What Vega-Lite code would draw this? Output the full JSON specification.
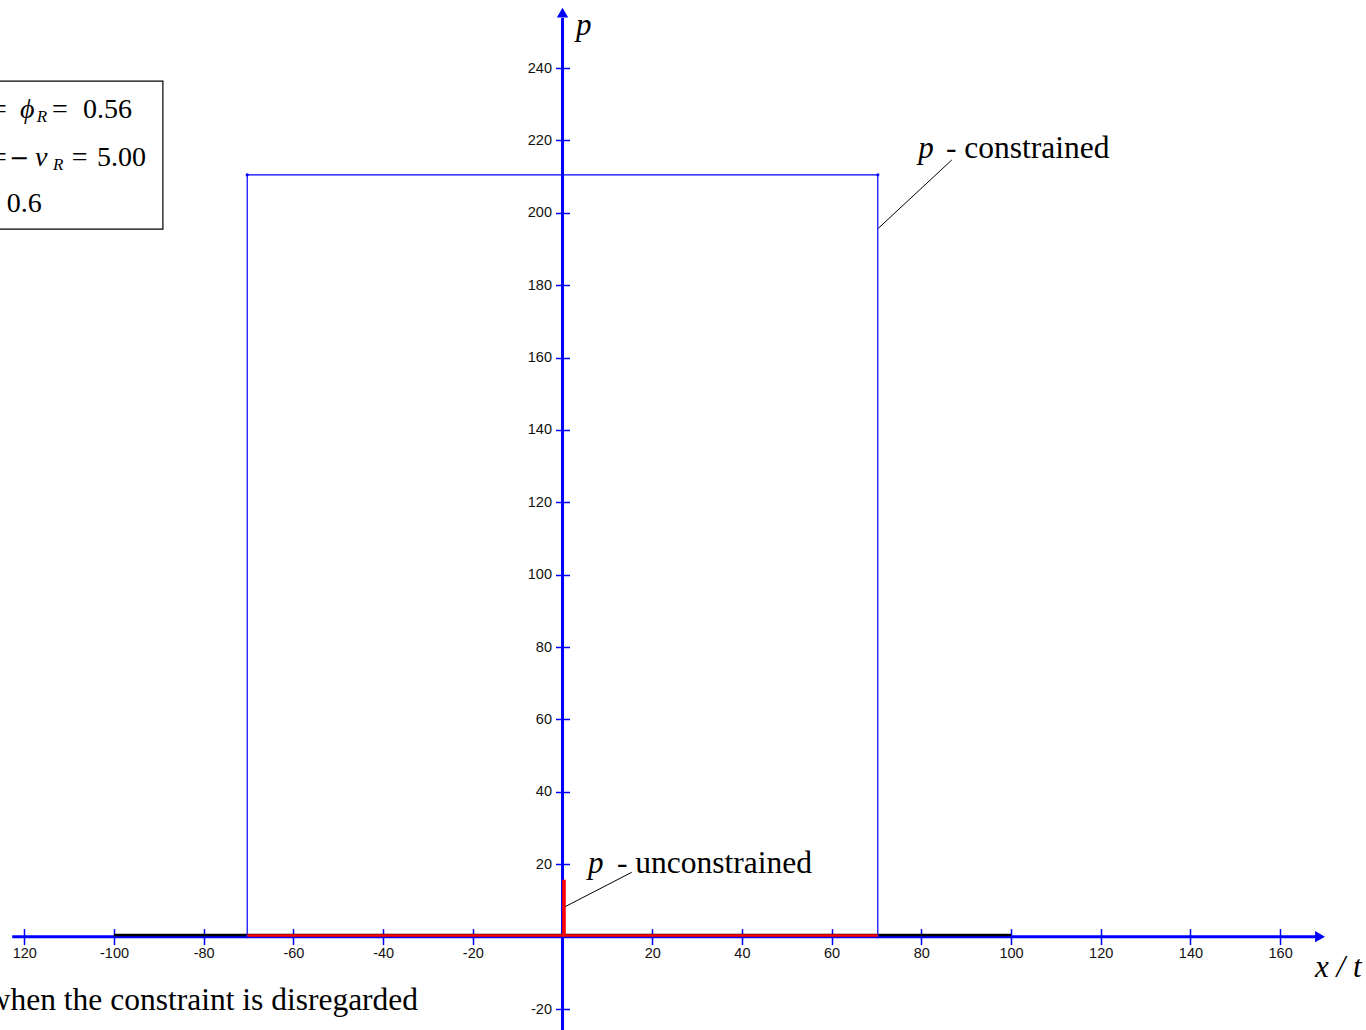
{
  "$schema": "https://vega.github.io/schema/vega-lite/v6.json",
  "width": 1366,
  "height": 1030,
  "autosize": {"type": "none"},
  "padding": 0,
  "background": "white",
  "config": {"view": {"stroke": null}},
  "datasets": {
    "xaxisline": [{"x": -122.7, "y": 0, "o": 1}, {"x": 167.9, "y": 0, "o": 2}],
    "yaxisline": [{"x": 0, "y": -25.8, "o": 1}, {"x": 0, "y": 253.8, "o": 2}],
    "arrowRight": [{"x": 168.9, "y": 0}],
    "arrowUp": [{"x": 0, "y": 255.3}],
    "black": [{"x": -100, "y": 0.45, "o": 1}, {"x": 100, "y": 0.45, "o": 2}],
    "constrained": [
      {"x": -70.3, "y": 0, "o": 1},
      {"x": -70.3, "y": 210.5, "o": 2},
      {"x": 70.3, "y": 210.5, "o": 3},
      {"x": 70.3, "y": 0, "o": 4}
    ],
    "unconstrained": [
      {"x": -70.3, "y": 0.3, "o": 1},
      {"x": 0.2, "y": 0.3, "o": 2},
      {"x": 0.2, "y": 15.4, "o": 3},
      {"x": 0.45, "y": 15.4, "o": 4},
      {"x": 0.45, "y": 0.3, "o": 5},
      {"x": 70.3, "y": 0.3, "o": 6}
    ],
    "leaders": [
      {"g": 1, "x": 70.4, "y": 195.7, "o": 1},
      {"g": 1, "x": 86.8, "y": 214.6, "o": 2},
      {"g": 2, "x": 0.56, "y": 8.26, "o": 1},
      {"g": 2, "x": 15.43, "y": 17.77, "o": 2}
    ],
    "box": [{"x": -130, "x2": -89.1, "y": 236.4, "y2": 195.5}],
    "boxNormal": [
      {"x": -127.4, "y": 226.1, "t": "="},
      {"x": -113.8, "y": 226.1, "t": "="},
      {"x": -106.9, "y": 226.1, "t": "0.56"},
      {"x": -127.4, "y": 213.0, "t": "="},
      {"x": -109.4, "y": 213.0, "t": "="},
      {"x": -103.8, "y": 213.0, "t": "5.00"},
      {"x": -123.9, "y": 200.3, "t": "0.6"}
    ],
    "boxMinus": [
      {"x": -123.4, "y": 213.0, "t": "−"}
    ],
    "boxItalic": [
      {"x": -120.96, "y": 226.1, "t": "ϕ"},
      {"x": -117.6, "y": 213.0, "t": "v"}
    ],
    "boxSub": [
      {"x": -117.2, "y": 225.2, "t": "R"},
      {"x": -113.6, "y": 211.8, "t": "R"}
    ],
    "labelItalic": [
      {"x": 3.0, "y": 249.1, "t": "p"},
      {"x": 167.8, "y": -11.2, "t": "x / t"},
      {"x": 79.3, "y": 215.1, "t": "p"},
      {"x": 5.69, "y": 17.6, "t": "p"}
    ],
    "labelNormal": [
      {"x": 85.5, "y": 215.1, "t": "- constrained"},
      {"x": 12.15, "y": 17.6, "t": "- unconstrained"}
    ],
    "labelRight": [
      {"x": -32.2, "y": -20.3, "t": "when the constraint is disregarded"}
    ]
  },
  "layer": [
    {
      "data": {"name": "xaxisline"},
      "mark": {"type": "line", "color": "#0000ff", "strokeWidth": 3},
      "encoding": {
        "x": {
          "field": "x", "type": "quantitative",
          "scale": {"domain": [-125.42, 179.15], "nice": false, "zero": false},
          "axis": {
            "orient": "bottom", "offset": -93.4, "title": null, "grid": false, "domain": false,
            "values": [-120, -100, -80, -60, -40, -20, 20, 40, 60, 80, 100, 120, 140, 160],
            "tickColor": "#0000ff", "tickSize": 8, "tickWidth": 1.5,
            "labelFont": "Liberation Sans", "labelFontSize": 14.5, "labelColor": "#111111",
            "labelPadding": 2, "labelFlush": false, "labelOverlap": false,
            "labelExpr": "datum.value == -120 ? '120' : '' + datum.value"
          }
        },
        "y": {
          "field": "y", "type": "quantitative",
          "scale": {"domain": [-25.8, 258.8], "nice": false, "zero": false},
          "axis": {
            "orient": "left", "offset": -562.5, "title": null, "grid": false, "domain": false,
            "values": [-20, 20, 40, 60, 80, 100, 120, 140, 160, 180, 200, 220, 240],
            "tickColor": "#0000ff", "tickSize": 7, "tickWidth": 1.5,
            "labelFont": "Liberation Sans", "labelFontSize": 14.5, "labelColor": "#111111",
            "labelPadding": 4, "labelFlush": false, "labelOverlap": false,
            "labelExpr": "'' + datum.value"
          }
        },
        "order": {"field": "o"}
      }
    },
    {
      "data": {"name": "yaxisline"},
      "mark": {"type": "line", "color": "#0000ff", "strokeWidth": 3},
      "encoding": {
        "x": {
          "field": "x", "type": "quantitative",
          "scale": {"domain": [-125.42, 179.15], "nice": false, "zero": false},
          "axis": {
            "orient": "top", "offset": -936.6, "title": null, "grid": false, "domain": false,
            "values": [-120, -100, -80, -60, -40, -20, 20, 40, 60, 80, 100, 120, 140, 160],
            "tickColor": "#0000ff", "tickSize": 8, "tickWidth": 1.5, "labels": false
          }
        },
        "y": {
          "field": "y", "type": "quantitative",
          "scale": {"domain": [-25.8, 258.8], "nice": false, "zero": false},
          "axis": {
            "orient": "right", "offset": -803.5, "title": null, "grid": false, "domain": false,
            "values": [-20, 20, 40, 60, 80, 100, 120, 140, 160, 180, 200, 220, 240],
            "tickColor": "#0000ff", "tickSize": 7, "tickWidth": 1.5, "labels": false
          }
        },
        "order": {"field": "o"}
      }
    },
    {
      "data": {"name": "arrowRight"},
      "mark": {"type": "point", "shape": "triangle-right", "filled": true, "color": "#0000ff", "size": 130, "opacity": 1},
      "encoding": {
        "x": {"field": "x", "type": "quantitative", "axis": null},
        "y": {"field": "y", "type": "quantitative", "axis": null}
      }
    },
    {
      "data": {"name": "arrowUp"},
      "mark": {"type": "point", "shape": "triangle-up", "filled": true, "color": "#0000ff", "size": 130, "opacity": 1},
      "encoding": {
        "x": {"field": "x", "type": "quantitative", "axis": null},
        "y": {"field": "y", "type": "quantitative", "axis": null}
      }
    },
    {
      "data": {"name": "black"},
      "mark": {"type": "line", "color": "#000000", "strokeWidth": 2.5},
      "encoding": {
        "x": {"field": "x", "type": "quantitative", "axis": null},
        "y": {"field": "y", "type": "quantitative", "axis": null},
        "order": {"field": "o"}
      }
    },
    {
      "data": {"name": "constrained"},
      "mark": {"type": "line", "color": "#0000ff", "strokeWidth": 1.2},
      "encoding": {
        "x": {"field": "x", "type": "quantitative", "axis": null},
        "y": {"field": "y", "type": "quantitative", "axis": null},
        "order": {"field": "o"}
      }
    },
    {
      "data": {"name": "constrained"},
      "mark": {"type": "point", "filled": true, "color": "#0000ff", "size": 10, "opacity": 1},
      "encoding": {
        "x": {"field": "x", "type": "quantitative", "axis": null},
        "y": {"field": "y", "type": "quantitative", "axis": null}
      }
    },
    {
      "data": {"name": "unconstrained"},
      "mark": {"type": "line", "color": "#ff0000", "strokeWidth": 2.5, "strokeJoin": "miter"},
      "encoding": {
        "x": {"field": "x", "type": "quantitative", "axis": null},
        "y": {"field": "y", "type": "quantitative", "axis": null},
        "order": {"field": "o"}
      }
    },
    {
      "data": {"name": "leaders"},
      "mark": {"type": "line", "color": "#000000", "strokeWidth": 1},
      "encoding": {
        "x": {"field": "x", "type": "quantitative", "axis": null},
        "y": {"field": "y", "type": "quantitative", "axis": null},
        "detail": {"field": "g"},
        "order": {"field": "o"}
      }
    },
    {
      "data": {"name": "box"},
      "mark": {"type": "rect", "fill": null, "stroke": "#000000", "strokeWidth": 1.2},
      "encoding": {
        "x": {"field": "x", "type": "quantitative", "axis": null},
        "x2": {"field": "x2"},
        "y": {"field": "y", "type": "quantitative", "axis": null},
        "y2": {"field": "y2"}
      }
    },
    {
      "data": {"name": "boxNormal"},
      "mark": {"type": "text", "font": "Liberation Serif", "fontSize": 28, "align": "left", "baseline": "alphabetic", "color": "#000000"},
      "encoding": {
        "x": {"field": "x", "type": "quantitative", "axis": null},
        "y": {"field": "y", "type": "quantitative", "axis": null},
        "text": {"field": "t"}
      }
    },
    {
      "data": {"name": "boxMinus"},
      "mark": {"type": "text", "font": "DejaVu Serif", "fontSize": 24, "align": "left", "baseline": "alphabetic", "color": "#000000"},
      "encoding": {
        "x": {"field": "x", "type": "quantitative", "axis": null},
        "y": {"field": "y", "type": "quantitative", "axis": null},
        "text": {"field": "t"}
      }
    },
    {
      "data": {"name": "boxItalic"},
      "mark": {"type": "text", "font": "Liberation Serif", "fontStyle": "italic", "fontSize": 28, "align": "left", "baseline": "alphabetic", "color": "#000000"},
      "encoding": {
        "x": {"field": "x", "type": "quantitative", "axis": null},
        "y": {"field": "y", "type": "quantitative", "axis": null},
        "text": {"field": "t"}
      }
    },
    {
      "data": {"name": "boxSub"},
      "mark": {"type": "text", "font": "Liberation Serif", "fontStyle": "italic", "fontSize": 17, "align": "left", "baseline": "alphabetic", "color": "#000000"},
      "encoding": {
        "x": {"field": "x", "type": "quantitative", "axis": null},
        "y": {"field": "y", "type": "quantitative", "axis": null},
        "text": {"field": "t"}
      }
    },
    {
      "data": {"name": "labelItalic"},
      "mark": {"type": "text", "font": "Liberation Serif", "fontStyle": "italic", "fontSize": 31, "align": "left", "baseline": "alphabetic", "color": "#000000"},
      "encoding": {
        "x": {"field": "x", "type": "quantitative", "axis": null},
        "y": {"field": "y", "type": "quantitative", "axis": null},
        "text": {"field": "t"}
      }
    },
    {
      "data": {"name": "labelNormal"},
      "mark": {"type": "text", "font": "Liberation Serif", "fontSize": 31.5, "align": "left", "baseline": "alphabetic", "color": "#000000"},
      "encoding": {
        "x": {"field": "x", "type": "quantitative", "axis": null},
        "y": {"field": "y", "type": "quantitative", "axis": null},
        "text": {"field": "t"}
      }
    },
    {
      "data": {"name": "labelRight"},
      "mark": {"type": "text", "font": "Liberation Serif", "fontSize": 31.5, "align": "right", "baseline": "alphabetic", "color": "#000000"},
      "encoding": {
        "x": {"field": "x", "type": "quantitative", "axis": null},
        "y": {"field": "y", "type": "quantitative", "axis": null},
        "text": {"field": "t"}
      }
    }
  ],
  "resolve": {"axis": {"x": "independent", "y": "independent"}}
}
